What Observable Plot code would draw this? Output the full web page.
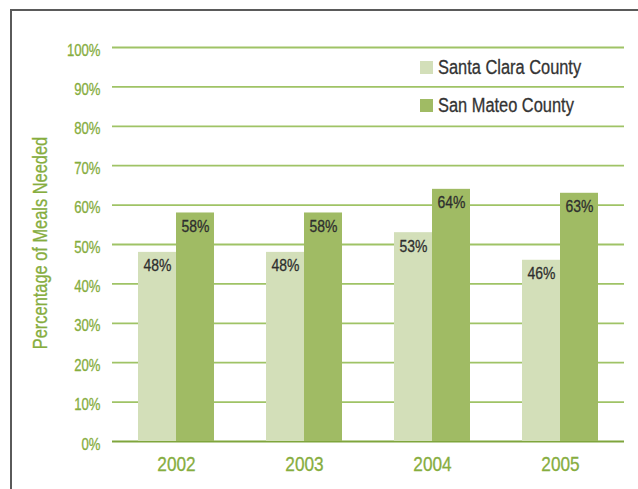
<!DOCTYPE html>
<html>
<head>
<meta charset="utf-8">
<script src="https://cdn.jsdelivr.net/npm/d3@7"></script>
<script src="https://cdn.jsdelivr.net/npm/@observablehq/plot@0.6"></script>
<style>
  html, body { margin: 0; padding: 0; background: #fff; }
  body { width: 638px; height: 489px; position: relative; overflow: hidden;
         font-family: "Liberation Sans", Arial, sans-serif; }
  #chart { position: absolute; left: 0; top: 0; }
  .frame-top { position: absolute; left: 10px; top: 9px; width: 628px; height: 2px; background: #5a5a5a; }
  .frame-left { position: absolute; left: 10px; top: 9px; width: 2px; height: 480px; background: #5a5a5a; }
  .ylabel { position: absolute; left: 40px; top: 243px; transform: translate(-50%, -50%) rotate(-90deg) scaleX(0.82);
            white-space: nowrap; color: #86ad3e; font-size: 20px; line-height: 20px; -webkit-text-stroke: 0.3px #86ad3e; }
  .leg { position: absolute; color: #333; font-size: 20px; line-height: 20px; white-space: nowrap;
         transform: scaleX(0.82); transform-origin: 0 0; -webkit-text-stroke: 0.3px #333; }
  .sw { position: absolute; width: 13px; height: 13px; }
</style>
</head>
<body>
<div id="chart"></div>
<div class="frame-top"></div>
<div class="frame-left"></div>
<div class="ylabel">Percentage of Meals Needed</div>
<div id="legend"></div>
<script>
const years = ["2002", "2003", "2004", "2005"];
const counties = ["Santa Clara County", "San Mateo County"];
const santaClara = [48, 48, 53, 46];
const sanMateo = [58, 58, 64, 63];
const yTicks = [0, 10, 20, 30, 40, 50, 60, 70, 80, 90, 100];
const colors = ["#d3dfb9", "#a0bb64"];

const rows = [];
years.forEach((yr, i) => {
  rows.push({year: yr, county: counties[0], value: santaClara[i]});
  rows.push({year: yr, county: counties[1], value: sanMateo[i]});
});

const plot = Plot.plot({
  width: 638,
  height: 489,
  marginLeft: 111,
  marginRight: 13,
  marginTop: 47,
  marginBottom: 48,
  style: {fontFamily: '"Liberation Sans", Arial, sans-serif', background: "transparent"},
  fx: {domain: years, padding: 0, label: null},
  x: {domain: counties, paddingInner: 0, paddingOuter: 0.667, axis: null},
  y: {domain: [0, 100], axis: null},
  color: {domain: counties, range: colors},
  marks: [
    Plot.ruleY(yTicks.filter(d => d > 0), {stroke: "#9fc366", strokeWidth: 1.8}),
    Plot.ruleY([0], {stroke: "#7fa53c", strokeWidth: 2}),
    Plot.barY(rows, {fx: "year", x: "county", y: "value", fill: "county"}),
    Plot.text(rows, {fx: "year", x: "county", y: "value", text: d => d.value + "%",
      lineAnchor: "top", dy: 7, fill: "#2e2e2e", fontSize: 17}),
    Plot.axisY({ticks: yTicks, tickSize: 0, tickPadding: 12, tickFormat: d => d + "%", fill: "#86ad3e",
      fontSize: 16, dy: 3, label: null}),
    Plot.axisFx({anchor: "bottom", tickSize: 0, tickPadding: 15, fill: "#86ad3e", fontSize: 21, label: null})
  ]
});
document.getElementById("chart").appendChild(plot);

// condense all chart text horizontally (narrow typeface look) and thicken slightly
d3.select(plot).selectAll("text").each(function() {
  const len = this.getComputedTextLength();
  if (len > 0) {
    this.setAttribute("textLength", (len * 0.82).toFixed(2));
    this.setAttribute("lengthAdjust", "spacingAndGlyphs");
  }
  const f = getComputedStyle(this).fill;
  this.style.stroke = f;
  this.style.strokeWidth = "0.3px";
});

const legend = document.getElementById("legend");
const legTops = [57, 95];
counties.forEach((c, i) => {
  const sw = document.createElement("div");
  sw.className = "sw";
  sw.style.left = "420px";
  sw.style.top = (legTops[i] + 4) + "px";
  sw.style.background = colors[i];
  legend.appendChild(sw);
  const el = document.createElement("div");
  el.className = "leg";
  el.style.left = "438px";
  el.style.top = legTops[i] + "px";
  el.textContent = c;
  legend.appendChild(el);
});
</script>
</body>
</html>
